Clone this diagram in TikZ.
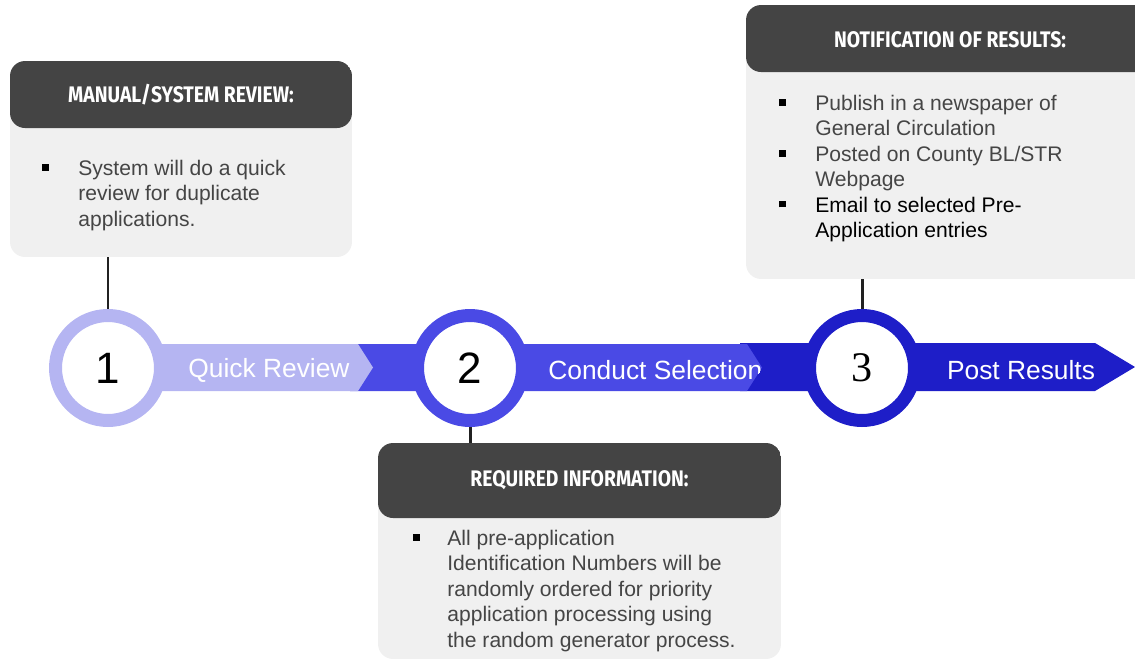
\documentclass[tikz,border=0pt]{standalone}
\usepackage{fontspec}
\setmainfont{Liberation Sans}
\newfontfamily\headfont[FakeStretch=0.86]{Fira Sans}
\newfontfamily\numserif{Liberation Serif}
\usetikzlibrary{positioning}

\definecolor{lav}{HTML}{B5B5F2}
\definecolor{midblue}{HTML}{4A4AE5}
\definecolor{deepblue}{HTML}{1E1EC8}
\definecolor{cardgray}{HTML}{F0F0F0}
\definecolor{headgray}{HTML}{444444}
\definecolor{bodygray}{HTML}{454545}

\newcommand\sqbul{\textcolor{black}{\rule[0.22em]{0.13cm}{0.13cm}}}

\begin{document}
\begin{tikzpicture}[x=0.02cm, y=-0.02cm,
  card/.style={rectangle, rounded corners=0.3cm, fill=cardgray, inner sep=0,
    path picture={\fill[headgray] (path picture bounding box.north west)
      rectangle ([yshift=-#1]path picture bounding box.north east);}}]
  \tikzstyle{ring} = [circle, fill=white, line width=7.4pt, minimum size=2.1cm,
                      inner sep=0, font=\fontsize{25}{25}\selectfont]
  \tikzstyle{bandtext} = [text=white, inner sep=0, font=\fontsize{15}{18}\selectfont]
  \tikzstyle{headtext} = [text=white, font=\headfont\bfseries\fontsize{12.8}{15}\selectfont]
  \tikzstyle{cardtext} = [anchor=north west, inner sep=0, align=left, text=bodygray,
                          font=\fontsize{12}{14.5}\selectfont]
  \tikzstyle{link} = [line width=1.7pt, draw=black!87]

\useasboundingbox (0,0) rectangle (1135,659);
\clip (0,0) rectangle (1135,659);

% arrow band, back to front
\fill[deepblue] (740,343) -- (1095,343) -- (1135,367) -- (1095,391) -- (740,391) -- cycle;
\fill[midblue] (350,344) -- (747,344) -- (762,367.5) -- (747,391) -- (350,391) -- cycle;
\fill[lav] (150,344) -- (358,344) -- (373,367.5) -- (358,391) -- (150,391) -- cycle;

\node[bandtext] (q1) at (269,370) {Quick Review};
\begin{scope}
  \clip (350,344) -- (747,344) -- (762,367.5) -- (747,391) -- (350,391) -- cycle;
  \node[bandtext, anchor=west] (q2) at (548,370) {Conduct Selection};
\end{scope}
\node[bandtext] (q3) at (1021,370) {Post Results};

% cards
\node[card=1.34cm, minimum width=6.84cm, minimum height=3.92cm] (card1) at (181,159) {};
\node[headtext] (h1) at ([yshift=-0.67cm]card1.north) {MANUAL/SYSTEM REVIEW:};
\node[cardtext] (t1) at (42,157) {\begin{tabular}{@{}p{0.72cm}@{}l@{}}
  \sqbul & System will do a quick\\
         & review for duplicate\\
         & applications.
\end{tabular}};

\node[card=1.5cm, minimum width=8.06cm, minimum height=4.32cm] (card2) at (579.5,551) {};
\node[headtext] (h2) at ([yshift=-0.75cm]card2.north) {REQUIRED INFORMATION:};
\node[cardtext] (t2) at (413,527) {\begin{tabular}{@{}p{0.68cm}@{}l@{}}
  \sqbul & All pre-application\\
         & Identification Numbers will be\\
         & randomly ordered for priority\\
         & application processing using\\
         & the random generator process.
\end{tabular}};

\node[card=1.34cm, minimum width=8.28cm, minimum height=5.48cm] (card3) at (953,142) {};
\node[headtext] (h3) at (950,40) {NOTIFICATION OF RESULTS:};
\node[cardtext] (t3) at (779,92) {\begin{tabular}{@{}p{0.72cm}@{}l@{}}
  \sqbul & Publish in a newspaper of\\
         & General Circulation\\
  \sqbul & Posted on County BL/STR\\
         & Webpage\\
  \sqbul & \textcolor{black}{Email to selected Pre-}\\
         & \textcolor{black}{Application entries}
\end{tabular}};

% step circles
\node[ring, draw=lav] (c1) at (108,368) {1};
\node[ring, draw=midblue] (c2) at (470,368) {2};
\node[ring, draw=deepblue, font=\numserif\fontsize{24}{24}\selectfont] (c3) at (862,368) {3};

\draw[link] (card1.south -| c1.north) -- (c1.north);
\draw[link] (c2.south) -- (c2.south |- card2.north);
\draw[link] (card3.south -| c3.north) -- (c3.north);
\end{tikzpicture}
\end{document}
